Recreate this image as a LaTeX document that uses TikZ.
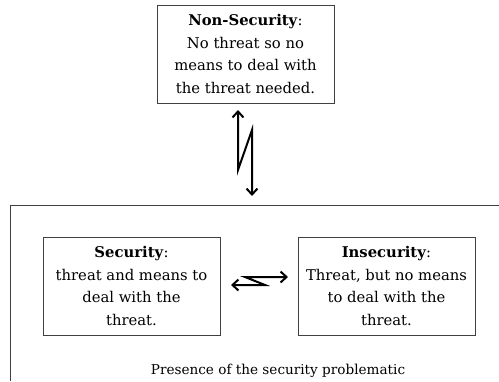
\documentclass[tikz,border=0pt]{standalone}
\usepackage{fontspec}
\setmainfont{DejaVu Serif}
\usetikzlibrary{arrows.meta}
\begin{document}
\begin{tikzpicture}[x=1pt,y=-1pt,
  box/.style={draw=black!75, line width=0.9pt, minimum width=177pt, minimum height=98pt, align=center, inner sep=1pt, font=\fontsize{14.8}{22.5}\selectfont},
  zig/.style={line width=2pt, {Straight Barb[length=6pt,width=11pt,line width=2pt]}-{Straight Barb[length=6pt,width=11pt,line width=2pt]}},
  frame/.style={draw=black!75, line width=0.9pt}]
\useasboundingbox (0,0) rectangle (499,381);
\node[box] (nonsec) at (245.5,54) {\textbf{Non-Security}:\\No threat so no\\means to deal with\\the threat needed.};
\node[box] (sec) at (131.5,286) {\textbf{Security}:\\threat and means to\\deal with the\\threat.};
\node[box] (insec) at (386.5,286) {\textbf{Insecurity}:\\Threat, but no means\\to deal with the\\threat.};
\node[font=\fontsize{13.6}{16}\selectfont] (presence) at (278,371) {Presence of the security problematic};
\coordinate (frameTR) at (499,205);
\coordinate (frameBL) at (10,381);
\draw[frame] (frameTR) -| (frameBL);
\coordinate (vtop) at (238,110);
\coordinate (vmid1) at (238,170);
\coordinate (vmid2) at (252,130);
\coordinate (vbot) at (252,196);
\draw[zig] (vtop) -- (vmid1) -- (vmid2) -- (vbot);
\coordinate (hleft) at (231,285);
\coordinate (hmid1) at (265,285);
\coordinate (hmid2) at (245,277);
\coordinate (hright) at (288,277);
\draw[zig] (hleft) -- (hmid1) -- (hmid2) -- (hright);
\end{tikzpicture}
\end{document}
